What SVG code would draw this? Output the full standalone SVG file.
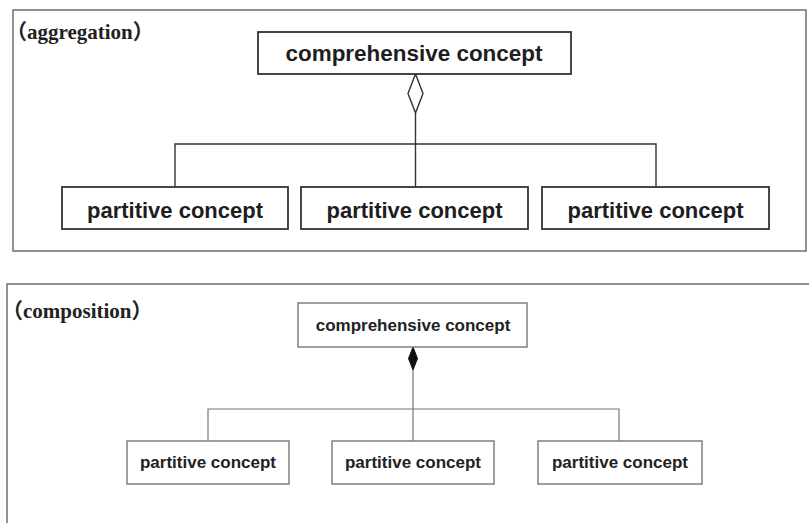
<svg xmlns="http://www.w3.org/2000/svg" width="809" height="523" viewBox="0 0 809 523">
<style>
.frame{fill:none;stroke:#6e6e6e;stroke-width:1.5}
.box{fill:#fff;stroke:#333;stroke-width:1.8}
.box2{fill:#fff;stroke:#777;stroke-width:1.4}
.conn{fill:none;stroke:#333;stroke-width:1.4}
.conn2{fill:none;stroke:#777;stroke-width:1.2}
.t1{font-family:"Liberation Sans",Arial,sans-serif;font-weight:bold;font-size:22px;fill:#1e1e1e;text-anchor:middle}
.t2{font-family:"Liberation Sans",Arial,sans-serif;font-weight:bold;font-size:17px;fill:#222;text-anchor:middle}
.lbl{font-family:"Liberation Serif","Noto Sans CJK SC",serif;font-weight:bold;font-size:21px;fill:#222}
</style>
<rect width="809" height="523" fill="#fff"/>
<g id="aggregation">
<rect class="frame" x="13" y="10" width="793" height="241"/>
<text class="lbl" x="6" y="39">（aggregation）</text>
</g>
<g id="composition">
<rect class="frame" x="7" y="284" width="807" height="245"/>
<text class="lbl" x="2" y="318">（composition）</text>
</g>
<g id="connectors">
<polygon class="conn" points="415.5,74 423,93.5 415.5,113 408,93.5" fill="#fff"/>
<path class="conn" d="M415.5,113 V187 M175,187 V144 H656 V187"/>
<polygon points="413,347 417.5,358.5 413,370 408.5,358.5" fill="#111" stroke="#111" stroke-width="1"/>
<path class="conn2" d="M413,370 V441 M208,441 V409 H619 V441"/>
</g>
<g id="agg-whole">
<rect class="box" x="258" y="32" width="313" height="42"/>
<text class="t1" x="414" y="61" textLength="257" lengthAdjust="spacingAndGlyphs">comprehensive concept</text>
</g>
<g id="agg-part1">
<rect class="box" x="62" y="187" width="226" height="42"/>
<text class="t1" x="175" y="218">partitive concept</text>
</g>
<g id="agg-part2">
<rect class="box" x="301" y="187" width="227" height="42"/>
<text class="t1" x="414.5" y="218">partitive concept</text>
</g>
<g id="agg-part3">
<rect class="box" x="542" y="187" width="227" height="42"/>
<text class="t1" x="655.5" y="218">partitive concept</text>
</g>
<g id="comp-whole">
<rect class="box2" x="298" y="303" width="229" height="44"/>
<text class="t2" x="413" y="331">comprehensive concept</text>
</g>
<g id="comp-part1">
<rect class="box2" x="127" y="441" width="162" height="43"/>
<text class="t2" x="208" y="468">partitive concept</text>
</g>
<g id="comp-part2">
<rect class="box2" x="332" y="441" width="162" height="43"/>
<text class="t2" x="413" y="468">partitive concept</text>
</g>
<g id="comp-part3">
<rect class="box2" x="538" y="441" width="164" height="43"/>
<text class="t2" x="620" y="468">partitive concept</text>
</g>
</svg>
